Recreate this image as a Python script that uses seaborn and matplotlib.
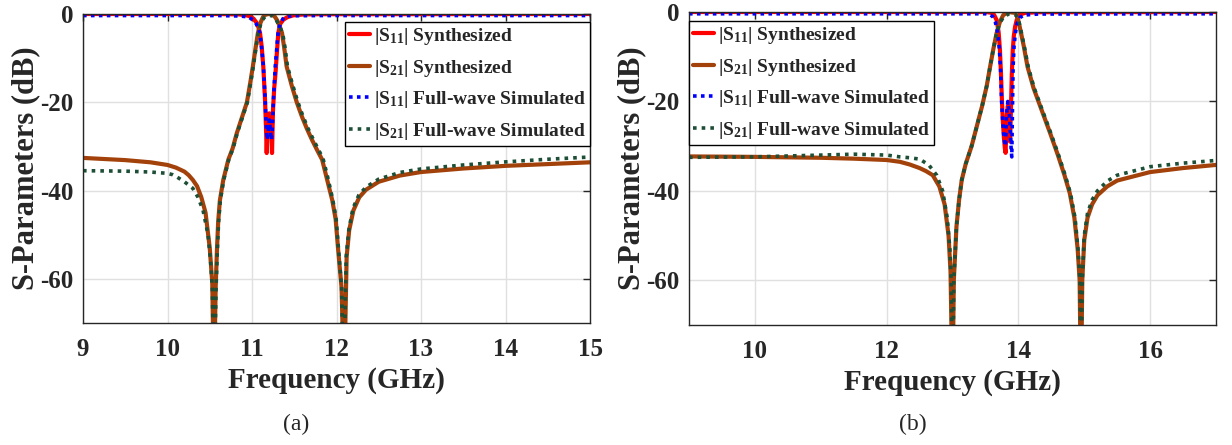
import numpy as np
import pandas as pd
import matplotlib
matplotlib.use("Agg")
import matplotlib.pyplot as plt
import seaborn as sns

# ---------------- Filter (a): centre ~11.2 GHz ----------------
fa_s11_syn = [9.0, 10.6, 10.85, 10.93, 10.976, 11.02, 11.055, 11.08, 11.095, 11.115, 11.134,
              11.154, 11.166, 11.174, 11.185, 11.205, 11.225, 11.237, 11.248, 11.262, 11.278,
              11.292, 11.303, 11.311, 11.335, 11.37, 11.42, 11.49, 11.6, 11.8, 15.0]
a_s11_syn = [0, 0, -0.1, -0.3, -0.5, -1.1, -2.0, -3.2, -4.3, -7.5, -12,
             -19.4, -26, -31.5, -25, -22.5, -25, -31.5, -22, -17, -13.5,
             -9.5, -6.5, -4.3, -2.2, -1.3, -0.7, -0.3, -0.12, -0.05, 0]

fa_s21_syn = [9.0, 9.5, 9.8, 10.0, 10.1, 10.2, 10.25, 10.3, 10.35, 10.4, 10.45, 10.5, 10.53,
              10.55, 10.57, 10.585, 10.6, 10.62, 10.66, 10.72, 10.77, 10.82, 10.88, 10.94,
              10.98, 11.01, 11.04, 11.07, 11.1, 11.13, 11.16, 11.2, 11.24, 11.27, 11.3,
              11.33, 11.355, 11.38, 11.41, 11.47, 11.53, 11.59, 11.65, 11.71, 11.77, 11.83,
              11.89, 11.95, 11.99, 12.02, 12.06, 12.09, 12.12, 12.15, 12.2, 12.27, 12.35,
              12.5, 12.75, 13.0, 13.5, 14.0, 14.5, 15.0]
a_s21_syn = [-32.6, -33.1, -33.6, -34.2, -34.8, -35.7, -36.5, -37.6, -39, -41.5, -45, -53, -61,
             -85, -62, -53.5, -47, -42.2, -37.6, -33, -30.5, -27, -23.5, -20,
             -15.5, -11.9, -8, -4.3, -2, -0.7, -0.15, 0, -0.15, -0.6, -1.5,
             -2.9, -4.3, -7.5, -11.9, -16.2, -20, -23.2, -26, -28.5, -30.8, -33,
             -37.6, -42.2, -46.5, -53.5, -62, -85, -55, -49, -44.5, -41.5, -39.8,
             -38, -36.6, -35.8, -35.0, -34.4, -34.0, -33.6]

fa_s11_fw = [9.0, 10.6, 10.85, 10.93, 10.97, 11.02, 11.05, 11.075, 11.095, 11.115, 11.135,
             11.155, 11.17, 11.18, 11.205, 11.23, 11.24, 11.255, 11.275, 11.29, 11.305,
             11.315, 11.34, 11.375, 11.43, 11.5, 11.8, 15.0]
a_s11_fw = [-0.35, -0.35, -0.45, -0.6, -0.8, -1.5, -2.2, -3.3, -4.5, -7.8, -12,
            -19, -26, -28.5, -24, -28.5, -26, -19, -12, -8.5, -5,
            -3.3, -2, -0.8, -0.5, -0.4, -0.35, -0.35]

fa_s21_fw = [9.0, 9.5, 9.8, 10.0, 10.06, 10.11, 10.2, 10.3, 10.36, 10.42, 10.48, 10.51, 10.53,
             10.55, 10.575, 10.59, 10.605, 10.625, 10.665, 10.725, 10.775, 10.825, 10.885,
             10.945, 10.985, 11.015, 11.045, 11.075, 11.105, 11.14, 11.17, 11.21, 11.25,
             11.28, 11.31, 11.34, 11.365, 11.39, 11.42, 11.48, 11.54, 11.6, 11.66, 11.72,
             11.78, 11.84, 11.9, 11.955, 11.995, 12.025, 12.06, 12.085, 12.115, 12.145,
             12.195, 12.265, 12.35, 12.5, 12.75, 13.0, 13.5, 14.0, 14.5, 15.0]
a_s21_fw = [-35.5, -35.6, -35.8, -36.1, -36.4, -36.9, -38.0, -39.5, -41.5, -44.4, -50, -56, -62,
            -85, -62, -53.5, -47, -42.2, -37.6, -33, -30.5, -27, -23.5,
            -20, -15.5, -11.9, -8, -4.3, -2.1, -0.9, -0.45, -0.3, -0.5,
            -1.1, -2.2, -3.4, -4.6, -7.5, -11.9, -16, -19.8, -23, -25.8, -28.2,
            -30.5, -32.7, -37.3, -42, -46.3, -53.5, -62, -85, -55, -49,
            -44, -41, -39.2, -37.4, -35.9, -35.1, -34.2, -33.5, -32.9, -32.4]

# ---------------- Filter (b): centre ~13.85 GHz ----------------
fb_s11_syn = [9.0, 13.5, 13.58, 13.63, 13.67, 13.7, 13.72, 13.735, 13.75, 13.765, 13.78,
              13.795, 13.806, 13.82, 13.84, 13.86, 13.874, 13.885, 13.9, 13.915, 13.93,
              13.95, 13.975, 14.0, 14.04, 14.1, 14.3, 17.0]
b_s11_syn = [0, 0, -0.15, -0.6, -1.8, -4.5, -8.5, -13.5, -19.7, -24.5, -28,
             -30.5, -31.5, -24, -21, -24, -29, -23, -14, -8.5, -5.5,
             -3.3, -1.8, -1.0, -0.5, -0.2, -0.05, 0]

fb_s21_syn = [9.0, 10.0, 11.0, 11.5, 12.0, 12.2, 12.35, 12.5, 12.6, 12.7, 12.8, 12.88,
              12.94, 12.97, 13.0, 13.02, 13.06, 13.1, 13.14, 13.2, 13.29, 13.37, 13.45,
              13.52, 13.57, 13.62, 13.67, 13.72, 13.77, 13.85, 13.95, 13.99, 14.02, 14.08,
              14.14, 14.23, 14.33, 14.48, 14.6, 14.7, 14.78, 14.85, 14.9, 14.93, 14.95,
              14.97, 15.0, 15.05, 15.12, 15.2, 15.35, 15.5, 16.0, 16.5, 17.0]
b_s21_syn = [-32.3, -32.4, -32.6, -32.8, -33.1, -33.5, -34.1, -34.9, -35.6, -36.5, -39,
             -43, -50, -58, -85, -60, -48, -42, -37.6, -34, -30, -25.5, -21,
             -16.5, -12.3, -8.3, -4.7, -2.2, -0.7, 0, -0.2, -1.3, -3.3, -7.5,
             -12.3, -17, -21, -27, -32, -36.5, -40.5, -46, -53, -60, -85,
             -60, -51, -46, -43, -41, -39, -37.7, -35.8, -34.9, -34.2]

fb_s11_fw = [9.0, 13.5, 13.56, 13.61, 13.65, 13.68, 13.71, 13.73, 13.745, 13.76, 13.775,
             13.79, 13.805, 13.82, 13.84, 13.86, 13.875, 13.89, 13.9, 13.91, 13.92,
             13.935, 13.955, 13.98, 14.02, 14.08, 14.3, 17.0]
b_s11_fw = [-0.4, -0.4, -0.55, -1.0, -2.2, -4.2, -8, -13, -19.7, -24, -27,
            -29, -30, -23, -20, -22, -26, -30.5, -32.4, -22, -12.3,
            -7.5, -4.7, -2.6, -1.3, -0.7, -0.45, -0.4]

fb_s21_fw = [9.0, 10.0, 11.0, 11.5, 12.0, 12.2, 12.35, 12.5, 12.64, 12.76, 12.85, 12.92,
             12.96, 12.98, 13.0, 13.02, 13.06, 13.1, 13.14, 13.2, 13.29, 13.37, 13.45,
             13.52, 13.57, 13.62, 13.67, 13.72, 13.78, 13.86, 13.96, 14.0, 14.03, 14.09,
             14.15, 14.24, 14.34, 14.49, 14.61, 14.71, 14.79, 14.86, 14.905, 14.935, 14.95,
             14.97, 15.0, 15.05, 15.12, 15.2, 15.35, 15.5, 16.0, 16.5, 17.0]
b_s21_fw = [-32.5, -32.4, -32.0, -31.8, -32.0, -32.4, -32.6, -32.9, -34.2, -36.5, -40,
            -46, -53, -60, -85, -60, -48, -42, -37.6, -34, -30, -25.5, -21,
            -16.5, -12.3, -8.3, -4.7, -2.4, -1.0, -0.4, -0.6, -1.6, -3.5, -7.7,
            -12.3, -17, -21, -27, -32, -36.5, -40.5, -46, -53, -60, -85,
            -60, -50, -45, -42, -40, -37.8, -36.5, -34.6, -33.8, -33.2]

legend_labels = [r"|S$_{11}$| Synthesized", r"|S$_{21}$| Synthesized",
                 r"|S$_{11}$| Full-wave Simulated", r"|S$_{21}$| Full-wave Simulated"]
x_ticks_a = [9, 10, 11, 12, 13, 14, 15]
x_ticks_b = [10, 12, 14, 16]
y_ticks = [0, -20, -40, -60]

sns.set_theme(style="whitegrid")
plt.rcParams.update({
    "font.family": ["Liberation Serif", "DejaVu Serif"],
    "font.weight": "bold",
    "mathtext.fontset": "custom",
    "mathtext.rm": "Liberation Serif:bold",
    "mathtext.it": "Liberation Serif:bold",
    "mathtext.bf": "Liberation Serif:bold",
    "mathtext.default": "bf",
    "axes.edgecolor": "#262626",
    "axes.linewidth": 1.0,
    "grid.color": "#e0e0e0",
    "grid.linewidth": 1.0,
    "xtick.direction": "in",
    "ytick.direction": "in",
    "xtick.color": "#262626",
    "ytick.color": "#262626",
})

styles = [
    dict(color="#ff0000", lw=3.0, ls="-"),
    dict(color="#a3410a", lw=3.0, ls="-"),
    dict(color="#0000ff", lw=2.6, ls=(0, (1, 1.2))),
    dict(color="#1d4f36", lw=2.6, ls=(0, (1, 1.4))),
]

fig = plt.figure(figsize=(12.32, 4.45), dpi=100)
W, H = 1232, 445
ax_a = fig.add_axes([83 / W, 1 - 323 / H, (590 - 83) / W, (323 - 14) / H])
ax_b = fig.add_axes([689 / W, 1 - 325 / H, (1216 - 689) / W, (325 - 12) / H])


def draw(ax, series):
    for (f, v), st, lab in zip(series, styles, legend_labels):
        df = pd.DataFrame({"f": f, "v": v})
        sns.lineplot(data=df, x="f", y="v", ax=ax, estimator=None, sort=False,
                     color=st["color"], linewidth=st["lw"], linestyle=st["ls"],
                     label=lab, legend=False)


draw(ax_a, [(fa_s11_syn, a_s11_syn), (fa_s21_syn, a_s21_syn),
            (fa_s11_fw, a_s11_fw), (fa_s21_fw, a_s21_fw)])
draw(ax_b, [(fb_s11_syn, b_s11_syn), (fb_s21_syn, b_s21_syn),
            (fb_s11_fw, b_s11_fw), (fb_s21_fw, b_s21_fw)])

for ax, xl, xt in [(ax_a, (9, 15), x_ticks_a), (ax_b, (9, 17), x_ticks_b)]:
    ax.set_xlim(*xl)
    ax.set_ylim(-70, 0)
    ax.set_xticks(xt)
    ax.set_yticks(y_ticks)
    ax.set_xticklabels([str(t) for t in xt])
    ax.set_yticklabels([str(t) for t in y_ticks])
    ax.tick_params(axis="both", labelsize=18, length=5, width=1,
                   top=True, right=True)
    ax.tick_params(axis="x", pad=11)
    ax.tick_params(axis="y", pad=7)
    for lab in ax.get_xticklabels() + ax.get_yticklabels():
        lab.set_fontweight("bold")
    ax.set_xlabel("Frequency (GHz)", fontsize=21, fontweight="bold", labelpad=4)
    ax.set_ylabel("S-Parameters (dB)", fontsize=22, fontweight="bold", labelpad=0)
    ax.grid(True)
    for sp in ax.spines.values():
        sp.set_visible(True)
        sp.set_color("#262626")
    ax.set_facecolor("white")

leg_kw = dict(fontsize=14, frameon=True, fancybox=False, edgecolor="black",
              framealpha=1, handlelength=1.1, handletextpad=0.2,
              labelspacing=0.55, borderpad=0.2, borderaxespad=0)
la = ax_a.legend(loc="upper right", bbox_to_anchor=(1.0, 1 - 8 / 309), **leg_kw)
lb = ax_b.legend(loc="upper left", bbox_to_anchor=(0.0, 1 - 9 / 313), **leg_kw)
for lg in (la, lb):
    lg.get_frame().set_linewidth(1.0)

fig.text(296 / W, 1 - 424 / H, "(a)", ha="center", va="center", fontsize=17,
         fontweight="normal", family=["Liberation Serif"])
fig.text(913 / W, 1 - 424 / H, "(b)", ha="center", va="center", fontsize=17,
         fontweight="normal", family=["Liberation Serif"])

fig.savefig("out.png", dpi=100, facecolor="white")
